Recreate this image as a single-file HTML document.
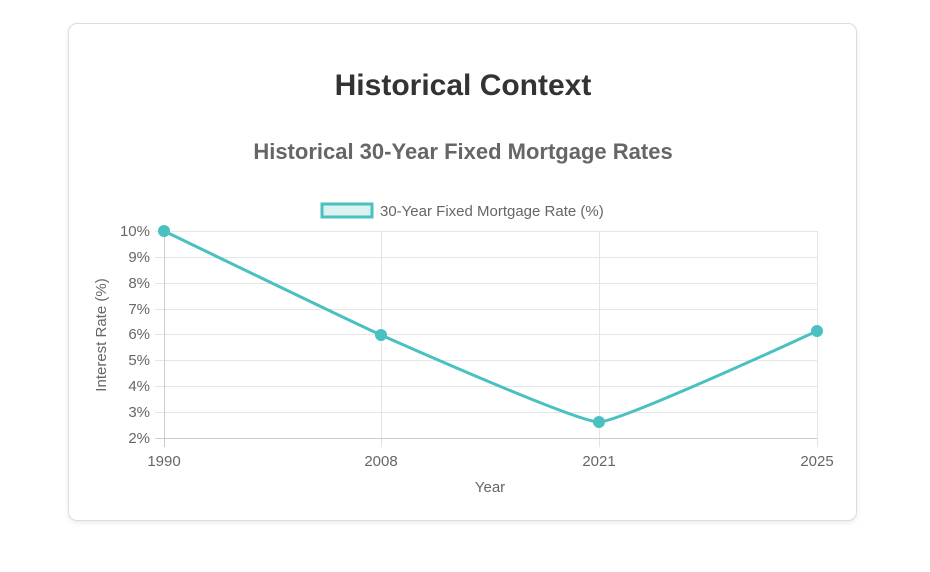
<!DOCTYPE html>
<html><head><meta charset="utf-8"><style>
body{margin:0;width:930px;height:572px;background:#fff;font-family:"Liberation Sans",Arial,sans-serif;position:relative;overflow:hidden}
.card{position:absolute;left:68px;top:23px;width:787px;height:496px;border:1px solid #ddd;border-radius:9px;box-shadow:0 2px 6px rgba(0,0,0,0.08);background:#fff}
</style></head><body>
<div class="card"></div>
<svg width="930" height="572" style="position:absolute;left:0;top:0" font-family="Liberation Sans, Arial, sans-serif">
<text x="463" y="95" text-anchor="middle" font-size="30" font-weight="bold" fill="#333">Historical Context</text>
<text x="463" y="159" text-anchor="middle" font-size="22" font-weight="bold" fill="#666">Historical 30-Year Fixed Mortgage Rates</text>
<rect x="322" y="204" width="50" height="13" fill="#dcf2f1" stroke="#4bc0c0" stroke-width="3"/>
<text x="380" y="216" font-size="15" fill="#666">30-Year Fixed Mortgage Rate (%)</text>
<g stroke="#e5e5e5" stroke-width="1">
<line x1="155" x2="817" y1="231.5" y2="231.5"/><line x1="155" x2="817" y1="257.5" y2="257.5"/>
<line x1="155" x2="817" y1="283.5" y2="283.5"/><line x1="155" x2="817" y1="309.5" y2="309.5"/>
<line x1="155" x2="817" y1="334.5" y2="334.5"/><line x1="155" x2="817" y1="360.5" y2="360.5"/>
<line x1="155" x2="817" y1="386.5" y2="386.5"/><line x1="155" x2="817" y1="412.5" y2="412.5"/>
<line x1="381.5" x2="381.5" y1="231" y2="447"/><line x1="599.5" x2="599.5" y1="231" y2="447"/>
<line x1="817.5" x2="817.5" y1="231" y2="447"/>
</g>
<line x1="155" x2="817" y1="438.5" y2="438.5" stroke="#ccc"/>
<line x1="164.5" x2="164.5" y1="231" y2="447" stroke="#ccc"/>
<g font-size="15" fill="#666" text-anchor="end">
<text x="150" y="236">10%</text><text x="150" y="262">9%</text><text x="150" y="288">8%</text>
<text x="150" y="314">7%</text><text x="150" y="339">6%</text><text x="150" y="365">5%</text>
<text x="150" y="391">4%</text><text x="150" y="417">3%</text><text x="150" y="443">2%</text>
</g>
<g font-size="15" fill="#666" text-anchor="middle">
<text x="164" y="466">1990</text><text x="381" y="466">2008</text><text x="599" y="466">2021</text><text x="817" y="466">2025</text>
<text x="490" y="492">Year</text>
<text transform="translate(106,335) rotate(-90)">Interest Rate (%)</text>
</g>
<path d="M164,231 C164,231 359,325.3 381,335 C402.5,344.4 577.3,422.2 599,422 C620.9,421.8 817,331 817,331" fill="none" stroke="#4bc0c0" stroke-width="3"/>
<g fill="#4bc0c0"><circle cx="164" cy="231" r="6"/><circle cx="381" cy="335" r="6"/><circle cx="599" cy="422" r="6"/><circle cx="817" cy="331" r="6"/></g>
</svg>
</body></html>
